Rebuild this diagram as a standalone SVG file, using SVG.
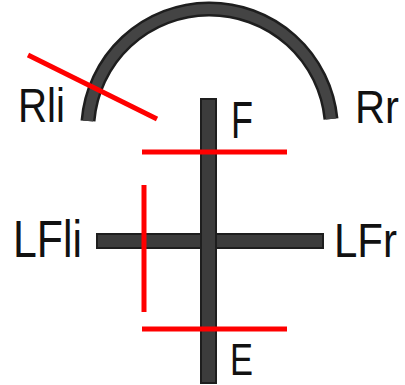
<svg xmlns="http://www.w3.org/2000/svg" width="405" height="385" viewBox="0 0 405 385">
<style>
.bar{fill:#3c3c3c;stroke:#1e1e1e;stroke-width:2}
.red{stroke:#ff0000;stroke-width:5;fill:none}
.lbl{font-family:"Liberation Sans",Arial,sans-serif;font-size:48px;fill:#111}
</style>
<rect width="405" height="385" fill="#ffffff"/>
<g id="arc">
<path d="M 88 121 A 122 122 0 0 1 331 119" fill="none" stroke="#1e1e1e" stroke-width="15"/>
<path d="M 88 121 A 122 122 0 0 1 331 119" fill="none" stroke="#444" stroke-width="10"/>
</g>
<g id="crossbar">
<rect class="bar" x="97" y="234" width="226" height="14"/>
<rect class="bar" x="201" y="99" width="15" height="284"/>
</g>
<g id="labels">
<text class="lbl" x="18" y="122" textLength="47" lengthAdjust="spacingAndGlyphs">Rli</text>
<text class="lbl" x="231" y="138" textLength="22" lengthAdjust="spacingAndGlyphs" style="font-size:52px">F</text>
<text class="lbl" x="355" y="123" textLength="44" lengthAdjust="spacingAndGlyphs" style="font-size:46px">Rr</text>
<text class="lbl" x="13" y="257" textLength="69" lengthAdjust="spacingAndGlyphs" style="font-size:52px">LFli</text>
<text class="lbl" x="334" y="257" textLength="63" lengthAdjust="spacingAndGlyphs">LFr</text>
<text class="lbl" x="230" y="375" textLength="23" lengthAdjust="spacingAndGlyphs" style="font-size:44px">E</text>
</g>
<g id="connectors">
<line class="red" x1="28" y1="55" x2="157" y2="119"/>
<line class="red" x1="142" y1="152" x2="287" y2="152"/>
<line class="red" x1="144" y1="185" x2="144" y2="312"/>
<line class="red" x1="142" y1="329" x2="287" y2="329"/>
</g>
</svg>
